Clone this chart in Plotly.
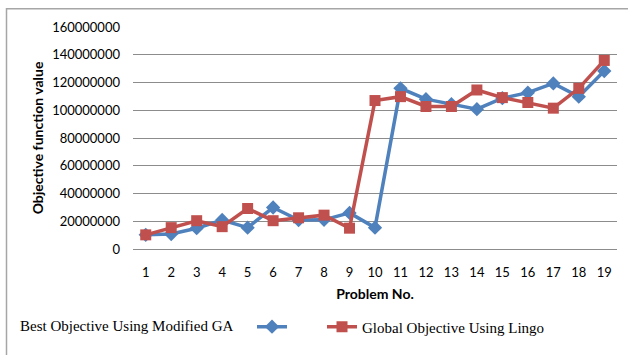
import plotly.graph_objects as go

problems = list(range(1, 20))
ga_best = [10.2e6, 10.8e6, 15.0e6, 20.9e6, 15.4e6, 29.9e6, 20.9e6, 21.0e6, 26.0e6, 15.4e6,
           115.8e6, 108.0e6, 104.4e6, 100.8e6, 108.7e6, 112.7e6, 119.3e6, 109.8e6, 128.3e6]
lingo_global = [10.2e6, 15.4e6, 20.4e6, 16.1e6, 29.2e6, 20.4e6, 22.5e6, 24.4e6, 15.0e6, 107.0e6,
                109.8e6, 102.7e6, 102.7e6, 114.6e6, 109.1e6, 105.6e6, 101.5e6, 115.8e6, 135.9e6]
y_ticks = list(range(0, 160_000_001, 20_000_000))

BLUE = "#4F81BD"
RED = "#C0504D"
TICK_FONT = dict(family="Lato, Carlito, Liberation Sans, sans-serif", size=13, color="#000000")
TITLE_FONT = dict(family="Lato, Carlito, Liberation Sans, sans-serif", size=14, color="#000000")
LEGEND_FONT = dict(family="Liberation Serif, Times New Roman, serif", size=15, color="#000000")

fig = go.Figure()
fig.add_trace(go.Scatter(
    x=problems, y=ga_best, mode="lines+markers", name="",
    line=dict(color=BLUE, width=3.5),
    marker=dict(symbol="diamond", size=11, color=BLUE),
    legend="legend",
))
fig.add_trace(go.Scatter(
    x=problems, y=lingo_global, mode="lines+markers", name="Global Objective Using Lingo",
    line=dict(color=RED, width=3.5),
    marker=dict(symbol="square", size=11, color=RED),
    legend="legend2",
))

# plot area spans pixels 133..617 horizontally and 27..252 vertically
L, R, T, B = 133, 11, 27, 103
W, H = 628, 355
pw, ph = W - L - R, H - T - B


def px(xpix):
    return (xpix - L) / pw


def py(ypix):
    return (H - B - ypix) / ph


fig.update_layout(
    width=W, height=H,
    margin=dict(l=L, r=R, t=T, b=B),
    paper_bgcolor="white", plot_bgcolor="white",
    showlegend=True,
    legend=dict(x=px(252), y=py(331), xanchor="left", yanchor="middle",
                orientation="h", font=LEGEND_FONT, bgcolor="rgba(0,0,0,0)"),
    legend2=dict(x=px(322), y=py(331), xanchor="left", yanchor="middle",
                 orientation="h", font=LEGEND_FONT, bgcolor="rgba(0,0,0,0)"),
    xaxis=dict(
        range=[0.5, 19.5], tickmode="array", tickvals=problems,
        ticktext=[str(p) for p in problems],
        showgrid=False, zeroline=False, showline=False,
        tickfont=TICK_FONT, ticklabelstandoff=14,
        title=dict(text="<b>Problem No.</b>", font=TITLE_FONT, standoff=10),
    ),
    yaxis=dict(
        range=[0, 160_000_000], tickmode="array", tickvals=y_ticks,
        ticktext=[str(v) for v in y_ticks],
        showgrid=True, gridcolor="#8C8C8C", gridwidth=1,
        zeroline=True, zerolinecolor="#8C8C8C", zerolinewidth=1,
        showline=False, tickfont=TICK_FONT, ticklabelstandoff=12,
        title=dict(text="<b>Objective function value</b>", font=TITLE_FONT, standoff=5),
    ),
    annotations=[dict(
        text="Best Objective Using Modified GA", xref="paper", yref="paper",
        x=px(18), y=py(330), xanchor="left", yanchor="middle", showarrow=False,
        font=LEGEND_FONT,
    )],
    shapes=[dict(
        type="rect", xref="paper", yref="paper",
        x0=px(6.5), x1=px(640), y0=py(8.5), y1=py(370),
        line=dict(color="#A6A6A6", width=1.5), fillcolor="rgba(0,0,0,0)", layer="below",
    )],
)

fig.write_html("out.html")
